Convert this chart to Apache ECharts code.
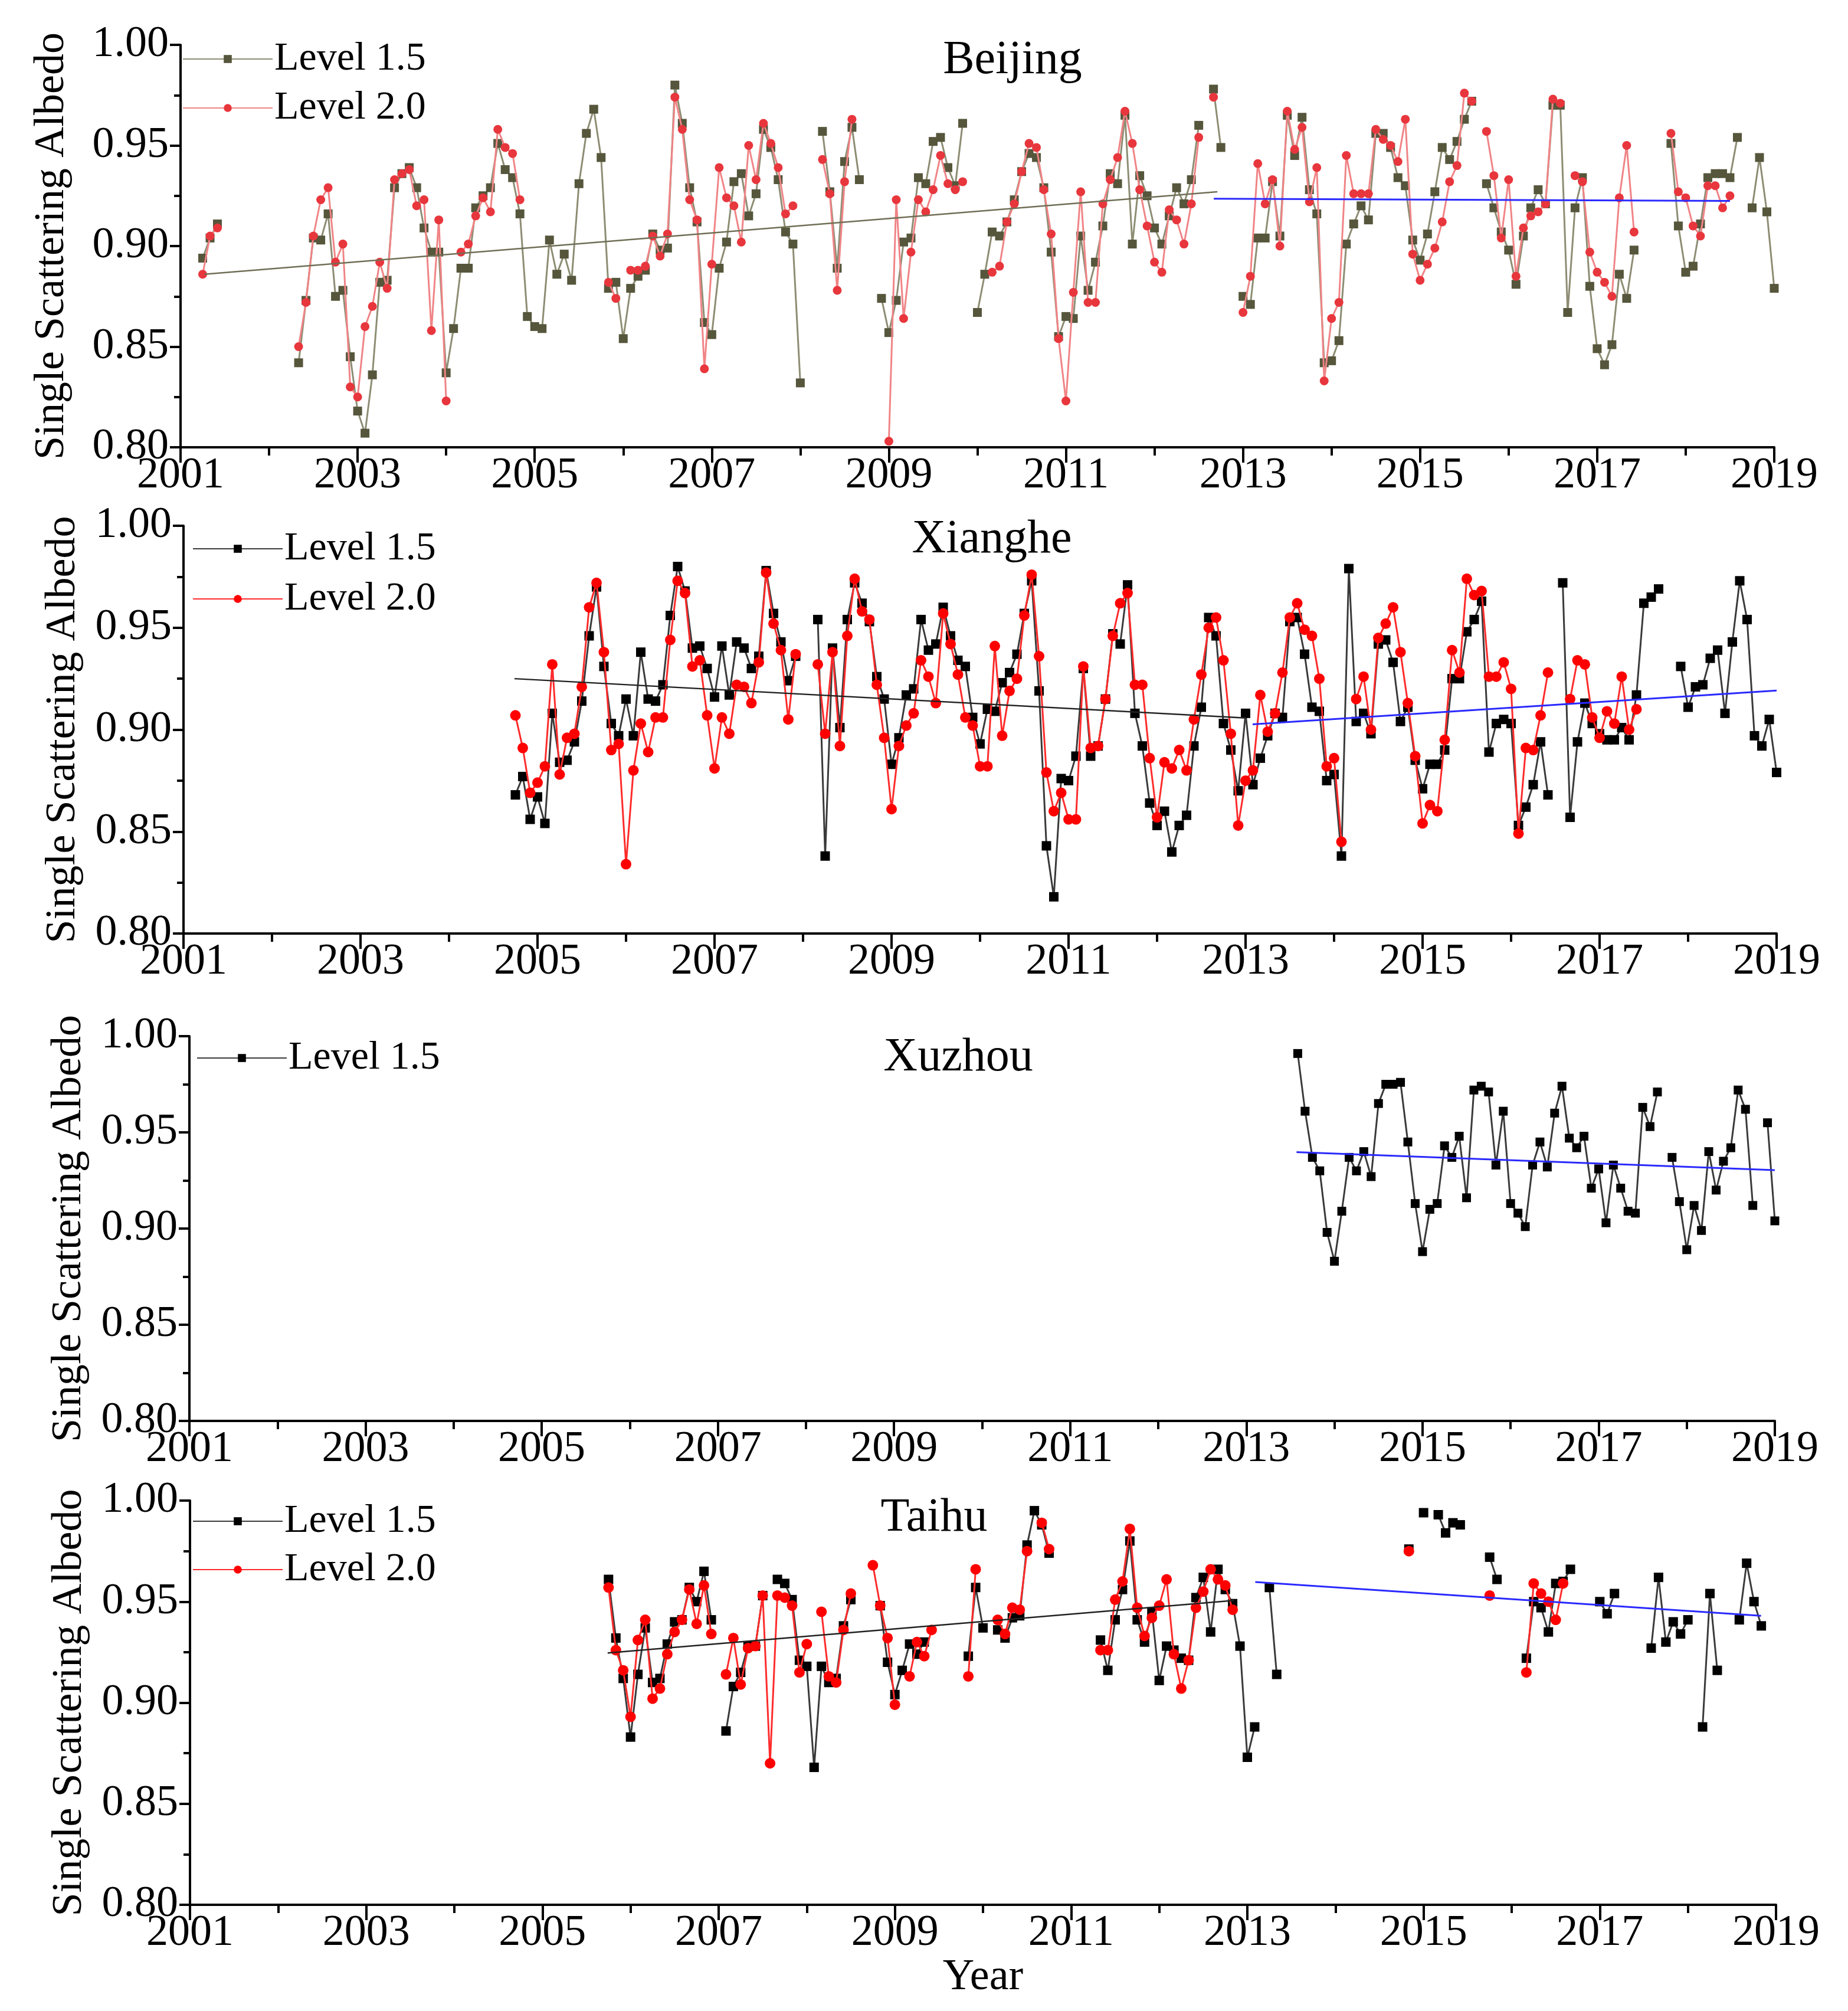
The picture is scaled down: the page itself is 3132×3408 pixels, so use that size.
<!DOCTYPE html>
<html>
<head>
<meta charset="utf-8">
<script src="https://cdn.jsdelivr.net/npm/echarts@6/dist/echarts.min.js"></script>
<style>
  html, body { margin: 0; padding: 0; background: #fff; }
  #chart { width: 3132px; height: 3408px; }
</style>
</head>
<body>
<div id="chart"></div>
<script>
// monthly single scattering albedo, stored as [first month, values] runs; gaps between runs
const beijingL15 = [
  ['2001-03', [0.894, 0.904, 0.911]],
  ['2002-04', [0.842, 0.873, 0.904, 0.903, 0.916, 0.875, 0.878, 0.845, 0.818, 0.807, 0.836, 0.882, 0.883, 0.929, 0.936, 0.939, 0.929, 0.909, 0.897, 0.897, 0.837, 0.859, 0.889, 0.889, 0.919, 0.925, 0.929, 0.951, 0.938, 0.934, 0.916, 0.865, 0.860, 0.859, 0.903, 0.886, 0.896, 0.883, 0.931, 0.956, 0.968, 0.944, 0.879, 0.882, 0.854, 0.879, 0.885, 0.888, 0.906, 0.898, 0.899, 0.980, 0.961, 0.929, 0.912, 0.862, 0.856, 0.889, 0.902, 0.932, 0.936, 0.915, 0.926, 0.958, 0.949, 0.933, 0.907, 0.901, 0.832]],
  ['2008-03', [0.957, 0.927, 0.889, 0.942, 0.959, 0.933]],
  ['2008-11', [0.874, 0.857, 0.873, 0.902, 0.904, 0.934, 0.931, 0.952, 0.954, 0.939, 0.930, 0.961]],
  ['2009-12', [0.867, 0.886, 0.907, 0.905, 0.912, 0.923, 0.937, 0.946, 0.944, 0.929, 0.897, 0.855, 0.865, 0.864, 0.905, 0.878, 0.892, 0.910, 0.936, 0.931, 0.965, 0.901, 0.935, 0.925, 0.909, 0.901, 0.915, 0.929, 0.921, 0.933, 0.960]],
  ['2012-08', [0.978, 0.949]],
  ['2012-12', [0.875, 0.871, 0.904, 0.904, 0.932, 0.905, 0.965, 0.945, 0.964, 0.928, 0.916, 0.842, 0.843, 0.853, 0.901, 0.911, 0.920, 0.913, 0.956, 0.956, 0.949, 0.934, 0.930, 0.903, 0.893, 0.906, 0.927, 0.949, 0.943, 0.952, 0.963, 0.972]],
  ['2015-09', [0.931, 0.919, 0.907, 0.898, 0.881, 0.905, 0.919, 0.928, 0.921, 0.970, 0.970, 0.867, 0.919, 0.934, 0.880, 0.849, 0.841, 0.851, 0.886, 0.874, 0.898]],
  ['2017-10', [0.951, 0.910, 0.887, 0.890, 0.911, 0.934, 0.936, 0.936, 0.934, 0.954]],
  ['2018-09', [0.919, 0.944, 0.917, 0.879]],
];
const beijingL20 = [
  ['2001-03', [0.886, 0.905, 0.909]],
  ['2002-04', [0.850, 0.872, 0.905, 0.923, 0.929, 0.892, 0.901, 0.830, 0.825, 0.860, 0.870, 0.892, 0.879, 0.933, 0.936, 0.938, 0.920, 0.923, 0.858, 0.913, 0.823]],
  ['2004-02', [0.897, 0.901, 0.915, 0.924, 0.917, 0.958, 0.949, 0.946, 0.923]],
  ['2005-10', [0.882, 0.874]],
  ['2006-01', [0.888, 0.888, 0.890, 0.905, 0.895, 0.906, 0.974, 0.958, 0.923, 0.913, 0.839, 0.891, 0.939, 0.924, 0.920, 0.902, 0.950, 0.933, 0.961, 0.951, 0.939, 0.916, 0.920]],
  ['2008-03', [0.943, 0.926, 0.878, 0.932, 0.963]],
  ['2008-12', [0.803, 0.923, 0.864, 0.897, 0.923, 0.917, 0.928, 0.945, 0.931, 0.928, 0.932]],
  ['2010-02', [0.887, 0.890, 0.912, 0.921, 0.937, 0.951, 0.949, 0.928, 0.906, 0.854, 0.823, 0.877, 0.927, 0.872, 0.872, 0.921, 0.933, 0.944, 0.967, 0.951, 0.928, 0.910, 0.892, 0.887, 0.918, 0.913, 0.901, 0.921, 0.954]],
  ['2012-08', [0.974]],
  ['2012-12', [0.867, 0.885, 0.941, 0.921, 0.933, 0.900, 0.967, 0.948, 0.959, 0.922, 0.939, 0.833, 0.864, 0.872, 0.945, 0.926, 0.926, 0.926, 0.958, 0.953, 0.950, 0.942, 0.963, 0.896, 0.883, 0.891, 0.899, 0.912, 0.932, 0.940, 0.976, 0.972]],
  ['2015-09', [0.957, 0.935, 0.904, 0.933, 0.885, 0.909, 0.915, 0.917, 0.921, 0.973, 0.971]],
  ['2016-09', [0.935, 0.932, 0.897, 0.887, 0.882, 0.875, 0.924, 0.950, 0.907]],
  ['2017-10', [0.956, 0.927, 0.924, 0.910, 0.905, 0.930, 0.930, 0.919, 0.925]],
];

const xiangheL15 = [
  ['2004-09', [0.868, 0.877, 0.856, 0.867, 0.854, 0.908, 0.884, 0.885, 0.894, 0.914, 0.946, 0.970, 0.931, 0.903, 0.897, 0.915, 0.897, 0.938, 0.915, 0.914, 0.922, 0.956, 0.980, 0.968, 0.940, 0.941, 0.930, 0.916, 0.941, 0.917, 0.943, 0.940, 0.930, 0.936, 0.978, 0.957, 0.943, 0.924, 0.936]],
  ['2008-02', [0.954, 0.838, 0.940, 0.901, 0.954, 0.972, 0.962, 0.953, 0.926, 0.915, 0.883, 0.896, 0.917, 0.920, 0.954, 0.939, 0.942, 0.960, 0.946, 0.934, 0.931, 0.906, 0.893, 0.910, 0.909, 0.923, 0.928, 0.937, 0.957, 0.973, 0.919, 0.843, 0.818, 0.876, 0.875, 0.887, 0.930, 0.887, 0.892, 0.915, 0.947, 0.942, 0.971, 0.908, 0.892, 0.864, 0.853, 0.860, 0.840, 0.853, 0.858, 0.892, 0.911, 0.955, 0.946, 0.903, 0.890, 0.870, 0.908, 0.873, 0.886, 0.897, 0.908, 0.906, 0.953, 0.955, 0.937, 0.911, 0.909, 0.875, 0.878, 0.838, 0.979, 0.904, 0.908, 0.898, 0.942, 0.944, 0.933, 0.904, 0.911, 0.885, 0.871, 0.883, 0.883, 0.890, 0.925, 0.925, 0.948, 0.954, 0.963, 0.889, 0.903, 0.905, 0.903, 0.853, 0.862, 0.873, 0.894, 0.868]],
  ['2016-07', [0.972, 0.857, 0.894, 0.913, 0.903, 0.898, 0.895, 0.895, 0.901, 0.895, 0.917, 0.962, 0.965, 0.969]],
  ['2017-11', [0.931, 0.911, 0.921, 0.922, 0.935, 0.939, 0.908, 0.943, 0.973, 0.954, 0.897, 0.892, 0.905, 0.879]],
];
const xiangheL20 = [
  ['2004-09', [0.907, 0.891, 0.869, 0.874, 0.882, 0.932, 0.878, 0.896, 0.898, 0.921, 0.960, 0.972, 0.938, 0.890, 0.893, 0.834, 0.880, 0.903, 0.889, 0.906, 0.906, 0.944, 0.973, 0.967, 0.931, 0.934, 0.907, 0.881, 0.906, 0.898, 0.922, 0.921, 0.913, 0.933, 0.977, 0.952, 0.939, 0.905, 0.937]],
  ['2008-02', [0.932, 0.898, 0.938, 0.892, 0.946, 0.974, 0.958, 0.954, 0.922, 0.896, 0.861, 0.892, 0.902, 0.908, 0.934, 0.926, 0.913, 0.957, 0.942, 0.927, 0.906, 0.902, 0.882, 0.882, 0.941, 0.897, 0.919, 0.925, 0.956, 0.976, 0.936, 0.879, 0.860, 0.869, 0.856, 0.856, 0.931, 0.891, 0.892, 0.915, 0.946, 0.962, 0.967, 0.922, 0.922, 0.886, 0.857, 0.884, 0.881, 0.890, 0.880, 0.905, 0.927, 0.950, 0.955, 0.934, 0.898, 0.853, 0.875, 0.880, 0.917, 0.899, 0.908, 0.928, 0.955, 0.962, 0.949, 0.946, 0.925, 0.882, 0.886, 0.845]],
  ['2014-03', [0.915, 0.926, 0.900, 0.945, 0.952, 0.960, 0.938, 0.913, 0.887, 0.854, 0.863, 0.860, 0.895, 0.939, 0.928, 0.974, 0.966, 0.968, 0.926, 0.926, 0.933, 0.920, 0.849, 0.891, 0.890, 0.907, 0.928]],
  ['2016-08', [0.915, 0.934, 0.932, 0.906, 0.896, 0.909, 0.903, 0.926, 0.900, 0.910]],
];

const xuzhouL15 = [
  ['2013-07', [0.991, 0.961, 0.937, 0.930, 0.898, 0.883, 0.909, 0.937, 0.930, 0.940, 0.927, 0.965, 0.975, 0.975, 0.976, 0.945, 0.913, 0.888, 0.910, 0.913, 0.943, 0.937, 0.948, 0.916, 0.972, 0.974, 0.971, 0.933, 0.961, 0.913, 0.908, 0.901, 0.933, 0.945, 0.932, 0.960, 0.974, 0.947, 0.942, 0.948, 0.921, 0.931, 0.903, 0.933, 0.921, 0.909, 0.908, 0.963, 0.953, 0.971]],
  ['2017-10', [0.937, 0.914, 0.889, 0.912, 0.899, 0.940, 0.920, 0.935, 0.942, 0.972, 0.962, 0.912]],
  ['2018-11', [0.955, 0.904]],
];

const taihuL15 = [
  ['2005-09', [0.961, 0.932, 0.912, 0.883, 0.914, 0.937, 0.910, 0.912, 0.929, 0.940, 0.941, 0.957, 0.950, 0.965, 0.941]],
  ['2007-01', [0.886, 0.908, 0.915, 0.928, 0.928, 0.953]],
  ['2007-08', [0.961, 0.959, 0.951, 0.921, 0.918, 0.868, 0.918, 0.910, 0.912, 0.938, 0.951]],
  ['2008-10', [0.948, 0.920, 0.904, 0.916, 0.929, 0.924, 0.930]],
  ['2009-10', [0.923, 0.957, 0.937]],
  ['2010-02', [0.936, 0.932, 0.942, 0.943, 0.978, 0.995, 0.988, 0.974]],
  ['2011-04', [0.931, 0.916, 0.941, 0.956, 0.980, 0.941, 0.930, 0.945, 0.911, 0.928, 0.926, 0.922, 0.921, 0.952, 0.962, 0.935, 0.966, 0.956, 0.949, 0.928, 0.873, 0.888]],
  ['2013-03', [0.957, 0.914]],
  ['2014-10', [0.976]],
  ['2014-12', [0.994]],
  ['2015-02', [0.993, 0.984, 0.989, 0.988]],
  ['2015-09', [0.972, 0.961]],
  ['2016-02', [0.922, 0.950, 0.947, 0.935, 0.959, 0.960, 0.966]],
  ['2016-12', [0.950, 0.944, 0.954]],
  ['2017-07', [0.927, 0.962, 0.930, 0.940, 0.934, 0.941]],
  ['2018-02', [0.888, 0.954, 0.916]],
  ['2018-07', [0.941, 0.969, 0.950, 0.938]],
];
const taihuL20 = [
  ['2005-09', [0.957, 0.926, 0.916, 0.893, 0.931, 0.941, 0.902, 0.907, 0.924, 0.935, 0.941, 0.956, 0.939, 0.958, 0.934]],
  ['2007-01', [0.914, 0.932, 0.909, 0.927, 0.928, 0.953, 0.870, 0.953, 0.952, 0.948, 0.915, 0.929]],
  ['2008-02', [0.945, 0.913, 0.910, 0.936, 0.954]],
  ['2008-09', [0.968, 0.948, 0.932, 0.899]],
  ['2009-02', [0.913, 0.930, 0.923, 0.936]],
  ['2009-10', [0.913, 0.966]],
  ['2010-02', [0.941, 0.934, 0.947, 0.946, 0.975]],
  ['2010-08', [0.989, 0.976]],
  ['2011-04', [0.926, 0.926, 0.951, 0.960, 0.986, 0.947, 0.933, 0.942, 0.948, 0.961, 0.924, 0.907, 0.921, 0.947, 0.955, 0.966, 0.961, 0.958, 0.946]],
  ['2014-10', [0.975]],
  ['2015-09', [0.953]],
  ['2016-02', [0.915, 0.959, 0.954, 0.950, 0.941, 0.959]],
];

// linear trend lines: [decimal year, albedo]
const beijingTrendA = [[2001.27, 0.886], [2012.71, 0.927]];
const beijingTrendB = [[2012.67, 0.9235], [2018.5, 0.9224]];
const xiangheTrendA = [[2004.74, 0.925], [2013.0, 0.9057]];
const xiangheTrendB = [[2013.08, 0.9026], [2019.0, 0.9192]];
const xuzhouTrend = [[2013.57, 0.9397], [2019.0, 0.9304]];
const taihuTrendA = [[2005.74, 0.9246], [2012.85, 0.9506]];
const taihuTrendB = [[2013.09, 0.9597], [2018.83, 0.943]];

const siteNames = ['Beijing', 'Xianghe', 'Xuzhou', 'Taihu'];
const FONT = "'Liberation Serif', 'Times New Roman', serif";
const START_YEAR = 2001;

// panel boxes in page pixels
const grids = [
  { left: 306, width: 2701, top: 76, height: 682 },
  { left: 311, width: 2700, top: 891, height: 691 },
  { left: 321, width: 2687, top: 1756, height: 652 },
  { left: 322, width: 2688, top: 2543, height: 685 },
];
const yNameGaps = [182, 168, 168, 168];
const titleSpots = [[1711, 58], [1676, 870], [1619, 1748], [1578, 2528]];
const legendSpots = [
  { left: 309, top: 66, itemGap: 15 },
  { left: 326, top: 896, itemGap: 17 },
  { left: 333, top: 1759, itemGap: 15 },
  { left: 326, top: 2544, itemGap: 14 },
];

const monthIndex = (ym) => {
  const [y, m] = ym.split('-').map(Number);
  return (y - START_YEAR) * 12 + (m - 1);
};

// x is years after 2001, y is albedo x100 (keeps tick maths on integers)
const buildData = (runs) => {
  const out = [];
  runs.forEach(([start, values], i) => {
    const k0 = monthIndex(start);
    if (i > 0) out.push([(k0 + 0.5) / 12, '-']);
    values.forEach((v, j) => out.push([(k0 + j + 1) / 12, v * 100]));
  });
  return out;
};

const levelSeries = (name, idx, runs, st) => ({
  name,
  type: 'line',
  xAxisIndex: idx,
  yAxisIndex: idx,
  data: buildData(runs),
  connectNulls: false,
  showAllSymbol: true,
  symbol: st.symbol,
  symbolSize: st.size,
  itemStyle: { color: st.marker },
  lineStyle: { color: st.line, width: st.width },
  emphasis: { disabled: true },
  z: st.z,
});

const trendSeries = (idx, pts, color, width) => ({
  type: 'line',
  xAxisIndex: idx,
  yAxisIndex: idx,
  data: pts.map(([yr, v]) => [yr - START_YEAR, v * 100]),
  symbol: 'none',
  lineStyle: { color, width },
  silent: true,
  z: 4,
});

const olive = { symbol: 'rect', size: 15, marker: '#56563c', line: '#8d8d74', width: 3, z: 2 };
const pink = { symbol: 'circle', size: 15, marker: '#e8363d', line: '#f08486', width: 3, z: 3 };
const black = { symbol: 'rect', size: 16, marker: '#000', line: '#3a3a3a', width: 3, z: 2 };
const red = { symbol: 'circle', size: 18, marker: '#ff0000', line: '#ff2b2b', width: 3, z: 3 };
const blackSmall = { ...black, size: 15 };
const BLUE = '#2a2aff';

// distinct names per panel so each legend picks up its own styling
const nm = (label, idx) => label + ' '.repeat(idx);

const series = [
  levelSeries(nm('Level 1.5', 0), 0, beijingL15, olive),
  levelSeries(nm('Level 2.0', 0), 0, beijingL20, pink),
  trendSeries(0, beijingTrendA, '#6f6f55', 2.5),
  trendSeries(0, beijingTrendB, BLUE, 3),
  levelSeries(nm('Level 1.5', 1), 1, xiangheL15, black),
  levelSeries(nm('Level 2.0', 1), 1, xiangheL20, red),
  trendSeries(1, xiangheTrendA, '#222', 2.5),
  trendSeries(1, xiangheTrendB, BLUE, 3),
  levelSeries(nm('Level 1.5', 2), 2, xuzhouL15, blackSmall),
  trendSeries(2, xuzhouTrend, BLUE, 3),
  levelSeries(nm('Level 1.5', 3), 3, taihuL15, black),
  levelSeries(nm('Level 2.0', 3), 3, taihuL20, red),
  trendSeries(3, taihuTrendA, '#222', 2.5),
  trendSeries(3, taihuTrendB, BLUE, 3),
];

const axisText = { fontFamily: FONT, fontSize: 74, color: '#000' };

const xAxes = grids.map((g, i) => ({
  gridIndex: i,
  type: 'value',
  min: 0,
  max: 18,
  interval: 2,
  axisLine: { show: true, onZero: false, lineStyle: { color: '#000', width: 4 } },
  axisTick: { show: true, length: 26, lineStyle: { color: '#000', width: 4 } },
  minorTick: { show: true, splitNumber: 2, length: 14, lineStyle: { color: '#000', width: 4 } },
  splitLine: { show: false },
  axisLabel: { ...axisText, margin: 12, showMinLabel: true, showMaxLabel: true, hideOverlap: false, formatter: (v) => String(START_YEAR + v) },
  name: i === 3 ? 'Year' : '',
  nameLocation: 'middle',
  nameGap: 80,
  nameTextStyle: { fontFamily: FONT, fontSize: 74, color: '#000' },
}));

const yAxes = grids.map((g, i) => ({
  gridIndex: i,
  type: 'value',
  min: 80,
  max: 100,
  interval: 5,
  axisLine: { show: true, onZero: false, lineStyle: { color: '#000', width: 4 } },
  axisTick: { show: true, length: 18, lineStyle: { color: '#000', width: 4 } },
  minorTick: { show: true, splitNumber: 2, length: 11, lineStyle: { color: '#000', width: 4 } },
  splitLine: { show: false },
  axisLabel: { ...axisText, margin: 20, formatter: (v) => (v / 100).toFixed(2) },
  name: 'Single Scattering Albedo',
  nameLocation: 'middle',
  nameRotate: 90,
  nameGap: yNameGaps[i],
  nameTextStyle: { fontFamily: FONT, fontSize: 72, color: '#000' },
}));

const titles = siteNames.map((t, i) => ({
  text: t,
  left: titleSpots[i][0],
  top: titleSpots[i][1],
  textAlign: 'center',
  textStyle: { fontFamily: FONT, fontSize: 80, fontWeight: 'normal', color: '#000' },
}));

const legends = legendSpots.map((spot, i) => ({
  orient: 'vertical',
  left: spot.left,
  top: spot.top,
  itemGap: spot.itemGap,
  itemWidth: 152,
  itemHeight: 17,
  padding: 0,
  selectedMode: false,
  data: i === 2 ? [nm('Level 1.5', i)] : [nm('Level 1.5', i), nm('Level 2.0', i)],
  formatter: (name) => name.trim(),
  textStyle: { fontFamily: FONT, fontSize: 68, lineHeight: 68, color: '#000', padding: [0, 0, 0, -2] },
}));

const chart = echarts.init(document.getElementById('chart'), null, { renderer: 'canvas' });
chart.setOption({
  animation: false,
  backgroundColor: '#fff',
  textStyle: { fontFamily: FONT },
  title: titles,
  legend: legends,
  grid: grids.map((g) => ({ ...g, containLabel: false })),
  xAxis: xAxes,
  yAxis: yAxes,
  series,
});
</script>
</body>
</html>
